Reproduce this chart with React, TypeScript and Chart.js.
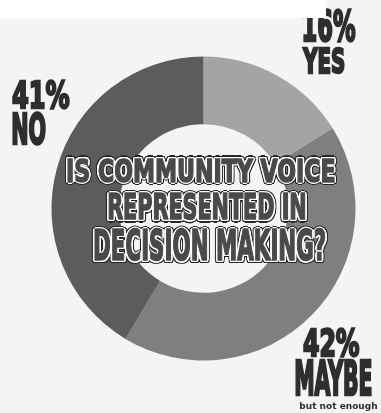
import React, { useEffect, useRef } from "react";
import { Chart, registerables } from "chart.js";

Chart.register(...registerables);

// ---- data ----
const categories = ["YES", "MAYBE", "NO"];
const percentValues = [16, 42, 41];
const percentLabels = ["16%", "42%", "41%"];
const sliceColors = ["#a4a4a4", "#7f7f7f", "#5c5c5c"];
const titleLines = ["IS COMMUNITY VOICE", "REPRESENTED IN", "DECISION MAKING?"];
const maybeNote = "but not enough";

const W = 381;
const H = 413;
const BASE = 100;
const IMPACT_FAMILY = "'Liberation Sans Narrow', 'DejaVu Sans Condensed', 'DejaVu Sans', sans-serif";
const COMIC_FAMILY = "'DejaVu Sans Condensed', 'DejaVu Sans', sans-serif";
const NOTE_FAMILY = "'DejaVu Sans', 'Liberation Sans', sans-serif";

let mctx: CanvasRenderingContext2D | null = null;
function measure(text: string, font: string) {
  if (!mctx) mctx = document.createElement("canvas").getContext("2d");
  mctx!.font = font;
  return mctx!.measureText(text);
}

type LabelProps = {
  text: string;
  x: number;
  y: number;
  w: number;
  h: number;
  family: string;
  weight: string;
  color: string;
  kind: "impact" | "comic" | "note";
  z?: number;
};

function Label({ text, x, y, w, h, family, weight, color, kind, z }: LabelProps) {
  const font = `${weight} ${BASE}px ${family}`;
  const m = measure(text, font);
  const inkW = m.actualBoundingBoxLeft + m.actualBoundingBoxRight;
  const inkH = m.actualBoundingBoxAscent + m.actualBoundingBoxDescent;
  const fA = (m as any).fontBoundingBoxAscent ?? BASE * 0.93;
  const fD = (m as any).fontBoundingBoxDescent ?? BASE * 0.24;
  const lineH = BASE * 1.5;
  const baseline = (lineH - (fA + fD)) / 2 + fA;
  const inkTop = baseline - m.actualBoundingBoxAscent;
  const inkLeft = -m.actualBoundingBoxLeft;
  const sx = w / inkW;
  const sy = h / inkH;
  const style: React.CSSProperties = {
    position: "absolute",
    left: 0,
    top: 0,
    font,
    lineHeight: `${lineH}px`,
    whiteSpace: "pre",
    color,
    transformOrigin: "0 0",
    transform: `translate(${x}px, ${y}px) scale(${sx}, ${sy}) translate(${-inkLeft}px, ${-inkTop}px)`,
    zIndex: z ?? 2,
  };
  if (kind === "impact") {
    const k = 2.0 / ((sx + sy) / 2);
    (style as any).WebkitTextStroke = `${k}px ${color}`;
  }
  if (kind === "comic") {
    const shadows: string[] = [];
    const steps = 16;
    const rings: [number, string][] = [
      [2.0, "#ffffff"],
      [3.1, "#262626"],
    ];
    for (const [r, c] of rings) {
      for (let i = 0; i < steps; i++) {
        const a = (i / steps) * Math.PI * 2;
        shadows.push(`${((Math.cos(a) * r) / sx).toFixed(2)}px ${((Math.sin(a) * r) / sy).toFixed(2)}px 0 ${c}`);
      }
    }
    style.textShadow = shadows.join(", ");
    const k = 1.3 / ((sx + sy) / 2);
    (style as any).WebkitTextStroke = `${k}px ${color}`;
  }
  return <div style={style}>{text}</div>;
}

export default function App() {
  const canvasRef = useRef<HTMLCanvasElement | null>(null);

  useEffect(() => {
    if (!canvasRef.current) return;
    const chart = new Chart(canvasRef.current, {
      type: "doughnut",
      data: {
        labels: categories,
        datasets: [
          {
            data: percentValues,
            backgroundColor: sliceColors,
            borderWidth: 0,
            spacing: 0,
          },
        ],
      },
      options: {
        animation: false,
        responsive: false,
        maintainAspectRatio: false,
        cutout: "55.5%",
        rotation: 0,
        layout: { padding: { left: 51.5, right: 25.5, top: 56.5, bottom: 52.5 } },
        plugins: {
          legend: { display: false },
          tooltip: { enabled: false },
          title: { display: false },
        },
      },
    });
    return () => chart.destroy();
  }, []);

  return (
    <div
      style={{
        position: "fixed",
        left: 0,
        top: 0,
        width: W,
        height: H,
        background: "#f4f4f4",
        overflow: "hidden",
      }}
    >
      <canvas ref={canvasRef} width={W} height={H} style={{ position: "absolute", left: 0, top: 0, width: W, height: H }} />
      {/* white scan band at top */}
      <div style={{ position: "absolute", left: 0, top: 0, width: 326, height: 18, background: "#ffffff", zIndex: 3 }} />

      {/* NO label */}
      <Label text={percentLabels[2]} x={13} y={81} w={56} h={28} family={IMPACT_FAMILY} weight="bold" color="#2e2e2e" kind="impact" />
      <Label text={categories[2]} x={13} y={113} w={32} h={32} family={IMPACT_FAMILY} weight="bold" color="#2e2e2e" kind="impact" />

      {/* YES label */}
      <Label text={percentLabels[0]} x={304} y={10} w={51} h={32} family={IMPACT_FAMILY} weight="bold" color="#2e2e2e" kind="impact" />
      <Label text={categories[0]} x={303} y={48} w={41} h={26} family={IMPACT_FAMILY} weight="bold" color="#2e2e2e" kind="impact" />

      {/* MAYBE label */}
      <Label text={percentLabels[1]} x={304} y={329} w={55} h={28} family={IMPACT_FAMILY} weight="bold" color="#2e2e2e" kind="impact" />
      <Label text={categories[1]} x={296} y={361} w={75} h={35} family={IMPACT_FAMILY} weight="bold" color="#2e2e2e" kind="impact" />
      <Label text={maybeNote} x={300} y={402} w={77} h={9} family={NOTE_FAMILY} weight="bold" color="#2e2e2e" kind="note" />

      {/* center title */}
      <Label text={titleLines[0]} x={68} y={158} w={266} h={24} family={COMIC_FAMILY} weight="bold" color="#4a4a4a" kind="comic" />
      <Label text={titleLines[1]} x={109} y={193} w={196} h={27} family={COMIC_FAMILY} weight="bold" color="#4a4a4a" kind="comic" />
      <Label text={titleLines[2]} x={95} y={229} w={230} h={32} family={COMIC_FAMILY} weight="bold" color="#4a4a4a" kind="comic" />
    </div>
  );
}
